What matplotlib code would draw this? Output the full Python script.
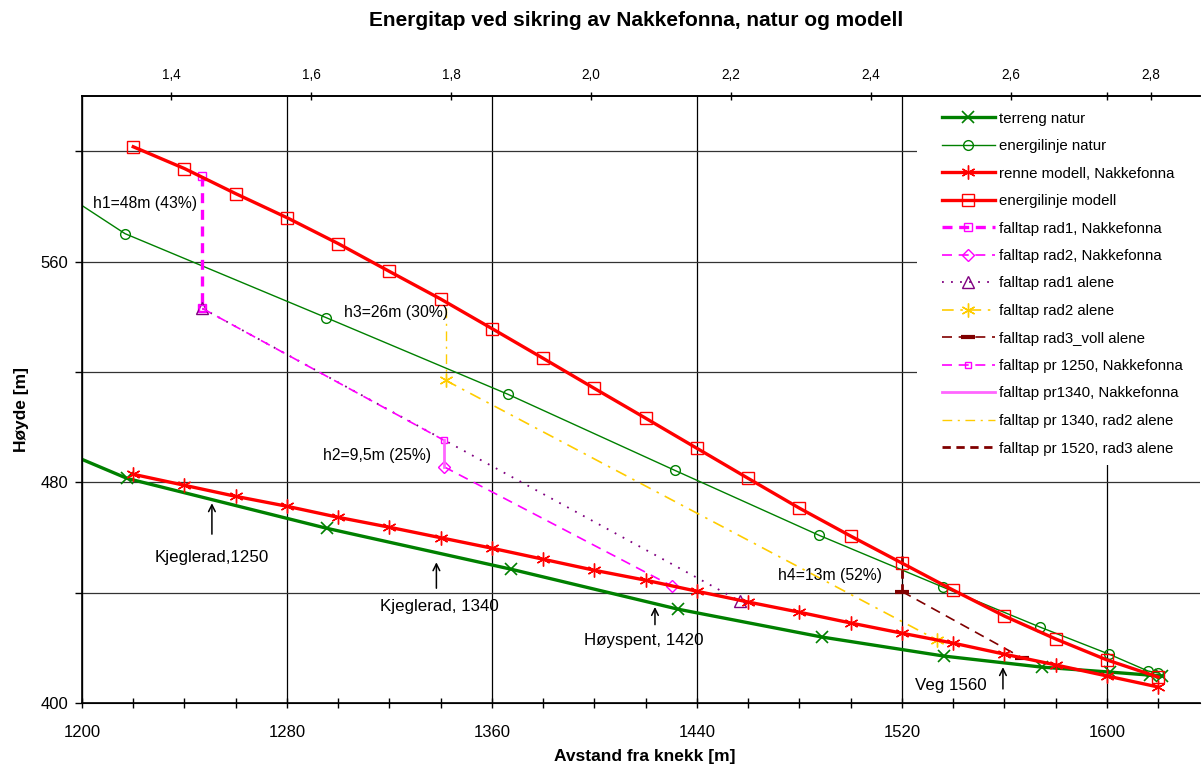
import matplotlib.pyplot as plt
from matplotlib.ticker import MultipleLocator, FixedLocator
from matplotlib.patches import Rectangle

plt.rcParams['font.family'] = ['Liberation Sans', 'DejaVu Sans']

# terreng natur
terreng_x = [1200, 1217.6, 1295.6, 1367.4, 1432.6, 1488.8, 1536.4, 1574.6, 1601.2, 1616.8, 1621.5]
terreng_y = [488.3, 481.4, 463.3, 448.5, 434.0, 423.9, 417.0, 413.0, 411.2, 410.1, 409.8]

# energilinje natur
enat_x = [1200, 1216.8, 1295.2, 1366.2, 1431.4, 1487.6, 1536.0, 1573.9, 1600.8, 1616.0, 1619.9]
enat_y = [580.3, 570.1, 539.7, 511.9, 484.3, 460.8, 442.0, 427.5, 417.7, 411.6, 410.9]

# renne modell og energilinje modell (profil hver 20 m)
modell_x = [1220, 1240, 1260, 1280, 1300, 1320, 1340, 1360, 1380, 1400, 1420,
            1440, 1460, 1480, 1500, 1520, 1540, 1560, 1580, 1600, 1620]
renne_y = [482.9, 478.9, 474.9, 471.3, 467.3, 463.7, 459.9, 456.1, 452.1, 448.1, 444.5,
           440.5, 436.6, 432.9, 429.0, 425.3, 421.7, 417.7, 413.8, 409.8, 405.8]
emod_y = [601.6, 593.7, 584.6, 575.9, 566.5, 556.4, 546.4, 535.7, 524.9, 514.0, 503.2,
          492.3, 481.4, 470.6, 460.5, 450.7, 440.9, 431.5, 423.2, 415.6, 409.4]

# falltap
rad1_nak_x, rad1_nak_y = [1247, 1247], [591.0, 543.0]
pr1250_x, pr1250_y = [1247, 1341.3], [543.0, 495.2]
pr1340_x, pr1340_y = [1341.3, 1341.3], [495.2, 485.6]
rad2_nak_x, rad2_nak_y = [1341.3, 1430.2], [485.6, 442.4]
rad1_al_x, rad1_al_y = [1247, 1456.8], [543.0, 436.9]
pr1340_r2_x, pr1340_r2_y = [1342, 1342], [543.0, 516.9]
rad2_al_x, rad2_al_y = [1342, 1533.7], [516.9, 422.8]
pr1520_x, pr1520_y = [1520, 1520], [453.4, 440.4]
rad3_x, rad3_y = [1520, 1567], [440.4, 416.3]

top_ticks = [1.4, 1.6, 1.8, 2.0, 2.2, 2.4, 2.6, 2.8]
top_labels = ['1,4', '1,6', '1,8', '2,0', '2,2', '2,4', '2,6', '2,8']

W, H = 1202, 767
fig = plt.figure(figsize=(W / 100, H / 100), dpi=100)
ax = fig.add_axes([82 / W, 1 - 703 / H, (1200 - 82) / W, (703 - 96) / H])

asterisk = (6, 2, 0)
green = '#008000'
red = '#FF0000'
mag = '#FF00FF'
purple = '#800080'
gold = '#FFCC00'
dred = '#800000'

h = []
h += ax.plot(terreng_x, terreng_y, color=green, lw=2.4, marker='x', ms=8, mew=1.2,
             markevery=slice(1, None), label='terreng natur', zorder=4)
h += ax.plot(enat_x, enat_y, color=green, lw=1.0, marker='o', ms=7, mfc='none',
             markevery=slice(1, None), label='energilinje natur', zorder=4)
h += ax.plot(modell_x, renne_y, color=red, lw=2.4, marker=asterisk, ms=10, mew=1.0,
             label='renne modell, Nakkefonna', zorder=5)
h += ax.plot(modell_x, emod_y, color=red, lw=2.4, marker='s', ms=8, mfc='none', mew=1.0,
             label='energilinje modell', zorder=5)
h += ax.plot(rad1_nak_x, rad1_nak_y, color=mag, lw=2.4, ls=(0, (3, 2)), marker='s', ms=6,
             mfc='none', label='falltap rad1, Nakkefonna', zorder=4)
h += ax.plot(rad2_nak_x, rad2_nak_y, color=mag, lw=1.2, ls=(0, (6, 4)), marker='D', ms=6,
             mfc='none', label='falltap rad2, Nakkefonna', zorder=4)
h += ax.plot(rad1_al_x, rad1_al_y, color=purple, lw=1.3, ls=(0, (1, 4)), marker='^', ms=8,
             mfc='none', label='falltap rad1 alene', zorder=4)
h += ax.plot(rad2_al_x, rad2_al_y, color=gold, lw=1.2, ls=(0, (7, 4, 1.5, 4)), marker=asterisk,
             ms=10, label='falltap rad2 alene', zorder=4)
h += ax.plot(rad3_x, rad3_y, color=dred, lw=1.2, ls=(0, (6, 4)), marker='_', ms=10, mew=3,
             label='falltap rad3_voll alene', zorder=4)
h += ax.plot(pr1250_x, pr1250_y, color=mag, lw=1.2, ls=(0, (6, 4)), marker='s', ms=5,
             mfc='none', label='falltap pr 1250, Nakkefonna', zorder=4)
h += ax.plot(pr1340_x, pr1340_y, color='#FF66FF', lw=2.0, label='falltap pr1340, Nakkefonna',
             zorder=4)
h += ax.plot(pr1340_r2_x, pr1340_r2_y, color=gold, lw=1.0, ls=(0, (7, 4, 1.5, 4)),
             label='falltap pr 1340, rad2 alene', zorder=4)
h += ax.plot(pr1520_x, pr1520_y, color=dred, lw=2.0, ls=(0, (3, 2)),
             label='falltap pr 1520, rad3 alene', zorder=4)

ax.set_xlim(1200, 1636.3)
ax.set_ylim(400, 620)
ax.xaxis.set_major_locator(MultipleLocator(80))
ax.xaxis.set_minor_locator(MultipleLocator(20))
ax.yaxis.set_major_locator(MultipleLocator(80))
ax.yaxis.set_minor_locator(MultipleLocator(40))
ax.grid(True, axis='x', which='major', color='black', lw=0.9)
ax.grid(True, axis='y', which='both', color='#333333', lw=0.9)
ax.tick_params(axis='x', which='both', direction='inout', length=7, width=1,
               labelsize=12, pad=12)
ax.tick_params(axis='y', which='both', direction='out', length=5, width=1,
               labelsize=12, pad=5)
ax.spines['right'].set_visible(False)
for s in ['left', 'bottom', 'top']:
    ax.spines[s].set_linewidth(1.2)
ax.set_axisbelow(True)

# hvit bakgrunn for tegnforklaringen
lx0 = (917 - 82) / (1200 - 82)
ly0 = (703 - 465) / (703 - 96)
ax.add_patch(Rectangle((lx0, ly0), 1 - lx0, 1 - ly0, transform=ax.transAxes,
                       facecolor='white', edgecolor='none', zorder=1.5))

ax2 = ax.twiny()
ax2.set_xlim(1.2729, 2.87)
ax2.xaxis.set_major_locator(FixedLocator(top_ticks))
ax2.set_xticklabels(top_labels)
ax2.xaxis.set_minor_locator(FixedLocator([2.737]))
ax2.tick_params(axis='x', which='both', direction='inout', length=6, width=1,
                labelsize=9.8, pad=7)
ax2.spines['right'].set_visible(False)
ax2.spines['top'].set_linewidth(1.2)

# tekster og piler
ax.text(1224.6, 581.0, 'h1=48m (43%)', ha='center', va='center', fontsize=11.3, zorder=6)
ax.text(1322.5, 541.5, 'h3=26m (30%)', ha='center', va='center', fontsize=11.3, zorder=6)
ax.text(1315.1, 489.8, 'h2=9,5m (25%)', ha='center', va='center', fontsize=11.3, zorder=6)
ax.text(1491.9, 446.3, 'h4=13m (52%)', ha='center', va='center', fontsize=11.3, zorder=6)

arrows = [(1250.7, 461.2, 472.4, 'Kjeglerad,1250', 1250.7, 452.9),
          (1338.3, 441.6, 451.0, 'Kjeglerad, 1340', 1339.3, 435.1),
          (1423.6, 428.4, 434.8, 'Høyspent, 1420', 1419.3, 422.8),
          (1559.4, 405.1, 413.0, 'Veg 1560', 1539.1, 406.2)]
for ax_x, y0, y1, txt, tx, ty in arrows:
    ax.annotate('', xy=(ax_x, y1), xytext=(ax_x, y0),
                arrowprops=dict(arrowstyle='->', lw=1.1, color='black',
                                shrinkA=0, shrinkB=0, mutation_scale=12), zorder=6)
    ax.text(tx, ty, txt, ha='center', va='center', fontsize=12.2, zorder=6)

leg = ax.legend(handles=h, loc='upper left',
                bbox_to_anchor=((942 - 82) / (1200 - 82), (703 - 111.5) / (703 - 96)),
                fontsize=10.8, frameon=False, handlelength=3.5,
                handletextpad=0.3, labelspacing=0.9, borderpad=0, borderaxespad=0)
leg.remove()
ax2.add_artist(leg)

fig.text(636 / W, 1 - 21 / H, 'Energitap ved sikring av Nakkefonna, natur og modell',
         ha='center', va='center', fontsize=15, fontweight='bold')
fig.text(645 / W, 1 - 757 / H, 'Avstand fra knekk [m]', ha='center', va='center',
         fontsize=12.5, fontweight='bold')
fig.text(22 / W, 1 - 410 / H, 'Høyde [m]', ha='center', va='center', rotation=90,
         fontsize=12.5, fontweight='bold')

fig.savefig('out.png', dpi=100)
